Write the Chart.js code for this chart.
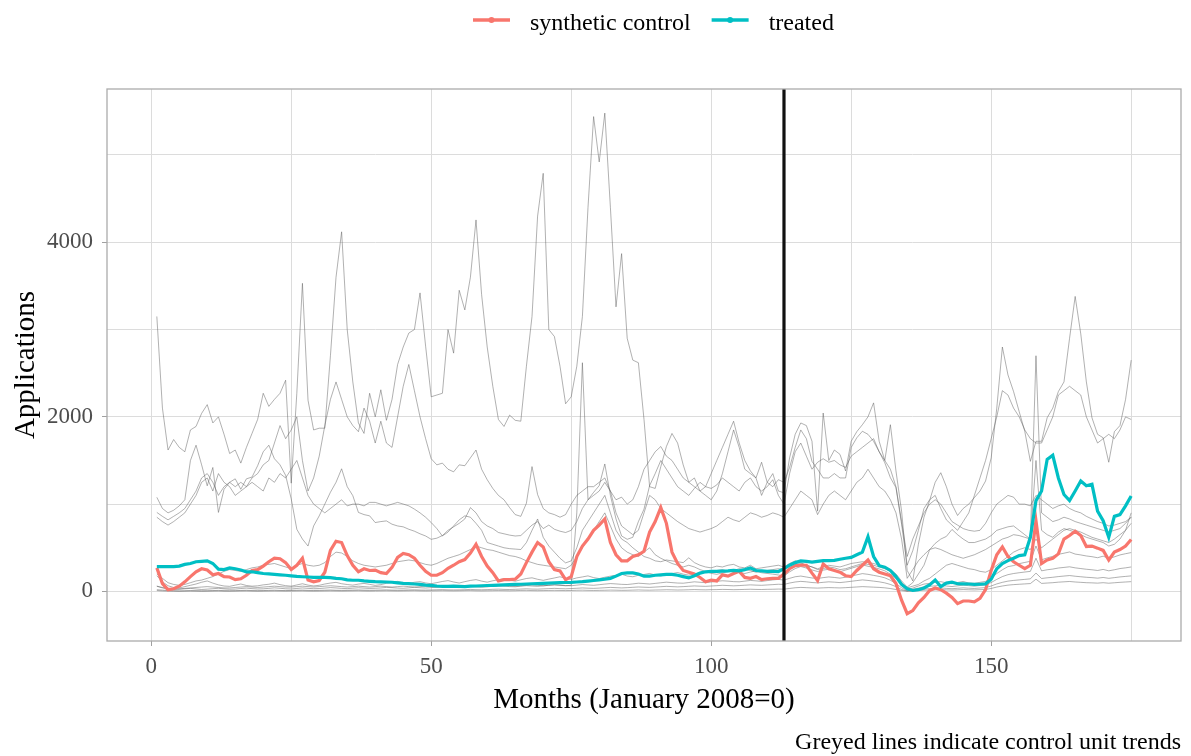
<!DOCTYPE html>
<html>
<head>
<meta charset="utf-8">
<title>Applications: treated vs synthetic control</title>
<script src="https://cdn.jsdelivr.net/npm/chart.js@4.4.1/dist/chart.umd.min.js"></script>
<style>
  html, body { margin: 0; padding: 0; background: #ffffff; }
  #wrap { width: 1191px; height: 756px; position: relative; }
  canvas { display: block; }
</style>
</head>
<body>
<div id="wrap"><canvas id="chart" width="1191" height="756"></canvas></div>
<script>
// Monthly series, month 1 .. 175 (January 2008 = 0)
const firstMonth = 1;
const treatmentMonth = 113;

// grid positions (major ones carry a label)
const xGrid = [0, 25, 50, 75, 100, 125, 150, 175];
const xTickLabels = [0, 50, 100, 150];
const yGrid = [0, 1000, 2000, 3000, 4000, 5000];
const yTickLabels = [0, 2000, 4000];

const seriesNames = ['synthetic control', 'treated'];
const captionText = 'Greyed lines indicate control unit trends';

const synthetic = [
  270, 90, 20, 30, 60, 110, 170, 225, 260, 245,
  190, 205, 170, 165, 135, 145, 185, 240, 250, 290,
  340, 380, 375, 330, 250, 300, 380, 130, 110, 125,
  220, 470, 575, 560, 410, 300, 225, 260, 240, 245,
  215, 205, 275, 390, 435, 420, 380, 300, 230, 185,
  185, 215, 265, 300, 340, 365, 440, 540, 400, 290,
  215, 120, 135, 135, 140, 200, 330, 450, 560, 510,
  340, 250, 235, 135, 170, 400, 520, 600, 700, 760,
  830, 560, 420, 350, 350, 400, 420, 460, 680, 800,
  960, 780, 450, 320, 240, 220, 200, 160, 110, 130,
  120, 190, 175, 205, 230, 160, 150, 170, 135, 145,
  150, 150, 200, 260, 296, 300, 300, 210, 125, 315,
  260, 240, 220, 180, 170, 240, 300, 360, 260, 220,
  200, 180, 90, -100, -255, -220, -130, -70, 10, 40,
  20, -20, -70, -140, -110, -110, -120, -80, 20, 240,
  420, 510, 400, 340, 300, 260, 300, 810, 320, 360,
  380, 430, 600, 640, 690, 640, 515, 520, 496, 470,
  360, 450, 480, 520, 595
];

const treated = [
  285, 285, 285, 285, 290, 310, 320, 340, 345, 350,
  320, 255, 250, 270, 260, 245, 225, 225, 215, 205,
  200, 195, 190, 185, 178, 172, 168, 165, 160, 160,
  160, 158, 150, 145, 132, 128, 128, 120, 116, 112,
  110, 108, 105, 98, 92, 90, 85, 80, 72, 70,
  62, 58, 58, 60, 58, 55, 60, 62, 65, 68,
  70, 72, 75, 78, 80, 82, 85, 88, 90, 92,
  95, 98, 100, 102, 104, 108, 112, 118, 125, 132,
  140, 150, 175, 205, 212, 212, 200, 175, 175, 185,
  190, 195, 195, 185, 170, 155, 180, 210, 225, 230,
  230, 232, 235, 240, 235, 250, 268, 240, 235, 230,
  230, 228, 260, 300, 330, 350, 345, 335, 345, 353,
  353, 355, 368, 380, 390, 420, 450, 627, 400, 295,
  278, 240, 170, 80, 30, 11, 20, 40, 75, 130,
  55, 95, 105, 88, 87, 85, 80, 82, 87, 140,
  260, 320, 353, 380, 410, 420, 620, 1040, 1150, 1512,
  1560, 1300, 1110, 1040, 1150, 1265, 1210, 1227, 920, 810,
  620, 860, 880, 980, 1094
];

// Control units
const unitA = [
  3150, 2100, 1620, 1740, 1650, 1600, 1850, 1890, 2040, 2140,
  1930, 2000, 1800, 1580, 1620, 1470, 1650, 1810, 1970, 2270,
  2120, 2200, 2270, 2420, 1240, 2270, 3530, 2190, 1850, 1870,
  1870, 2700, 3600, 4120, 3000, 2400, 1930, 1810, 2270, 2000,
  2310, 1960, 2200, 2600, 2800, 2960, 3000, 3420, 2810, 2230,
  2250, 2270, 3000, 2730, 3450, 3225, 3600, 4256, 3400, 2800,
  2350, 1970, 1890, 2020, 1960, 1950, 2580, 3150, 4300, 4790,
  3000, 2920, 2580, 2150, 2230, 2580, 3150, 4400, 5440, 4920,
  5480, 4400, 3260, 3870, 2900, 2650, 2620, 1970, 1200, 1180,
  1430, 1660, 1810, 1700, 1450, 1250, 1300, 1150, 1200, 1350,
  1500, 1650, 1800, 1950, 1700, 1500, 1380, 1300, 1480, 1250,
  1350, 1150, 1130, 1530, 1800, 1930, 1900, 1720, 920, 2044,
  1500, 1620, 1570, 1380, 1720, 1830, 1910, 2000, 2160, 1720,
  1500, 1910, 1380, 920, 240, 120, 540, 850, 1040, 1250,
  1360, 1200, 1000, 870, 950, 1000, 1075, 1150, 1265, 1530,
  2100, 2800, 2480, 2290, 2060, 1835, 1490, 1720, 1720, 1990,
  2100, 2290, 2400, 2900, 3380, 2950, 2400, 1990, 1800, 1760,
  1480, 1830, 1900, 2200, 2650
];

const unitB = [
  905, 860, 820, 860, 900, 950, 1050, 1150, 1300, 1350,
  1250, 1100, 1200, 1250, 1200, 1250, 1200, 1300, 1350, 1450,
  1500, 1700, 1900, 1750, 1850, 2000, 1500, 1150, 1300, 1550,
  1900, 2200, 2400, 2200, 2000, 1900, 1830, 2100, 1950, 1700,
  1950, 1700, 1650, 2000, 2350, 2600, 2300, 2000, 1750, 1520,
  1450, 1470, 1400, 1370, 1450, 1440, 1530, 1620, 1400, 1280,
  1180, 1100, 1050, 960, 880, 860, 1010, 1430, 1110, 950,
  900, 880, 850, 880, 1000, 1100, 1150, 1200, 1200, 1250,
  1300, 1150, 1050, 1080, 1000, 1050, 1200, 1400, 1500, 1600,
  1660, 1550, 1500, 1400, 1300, 1250, 1200, 1150, 1100, 1050,
  1150, 1350, 1600, 1850, 1650, 1400, 1350, 1300, 1100, 1250,
  1200, 1280, 1250, 1420, 1650, 1850, 1750, 1490, 1400, 1300,
  1300, 1350, 1300, 1300, 1650, 1760, 1835, 1800, 1720, 1600,
  1474, 1303, 1189, 770, 300, 467, 700, 950, 1050, 1100,
  950, 820, 760, 700, 800, 900, 1100, 1300, 1500, 1750,
  2000, 2300, 2250, 2100, 2000, 1850, 1750, 1700, 1700, 1850,
  2000, 2250, 2300, 2350, 2300, 2250, 2000, 1850, 1700, 1750,
  1800, 1750, 1850, 2000, 1970
];

const unitC = [
  1078, 950, 900, 930, 980, 1050, 1500, 1675, 1450, 1210,
  1420, 905, 1170, 1250, 1290, 1170, 1290, 1310, 1440, 1600,
  1675, 1520, 1450, 1330, 1060, 712, 600, 520, 750, 866,
  1000, 1136, 1250, 1405, 1200, 1097, 905, 880, 866, 789,
  800, 808, 770, 750, 740, 712, 690, 660, 635, 597,
  610, 640, 700, 740, 780, 830, 960, 900, 800, 750,
  720, 675, 660, 645, 635, 640, 700, 760, 800, 720,
  760, 712, 690, 675, 700, 800, 950, 1050, 1135, 1212,
  1460, 1100, 830, 635, 597, 620, 800, 943, 1212, 1350,
  1500, 1400, 1300, 1200, 1150, 1100, 1180, 1250, 1200, 1180,
  1220, 1300, 1250, 1200, 1150, 1250, 1300, 1200, 1150, 1200,
  1280, 1100, 1000, 1350, 1600, 1700, 1550, 1400, 1480, 1520,
  1480, 1500, 1450, 1420, 1550, 1600, 1650, 1700, 1750, 1600,
  1500, 1400, 1200, 800, 400, 600, 750, 900, 1000, 1050,
  1000, 900, 800, 760, 720, 700, 690, 700, 780, 900,
  1000, 1050, 1100, 1080, 1000, 1000, 980, 1100, 1050, 1000,
  950, 980, 1000, 950, 920, 900, 860, 830, 800, 780,
  750, 760, 780, 800, 850
];

const unitD = [
  850, 800, 760, 800, 850, 900, 1000, 1100, 1250, 1300,
  1150, 1350, 1250, 1200, 1100, 1150, 1200, 1250, 1200, 1150,
  1300, 1250, 1350, 1300, 1400, 1500, 1300, 1100, 1000, 950,
  900, 950, 1000, 1050, 980, 1000, 1000, 980, 1020, 1020,
  1000, 980, 1000, 1020, 1001, 980, 943, 900, 850, 789,
  720, 635, 680, 750, 820, 866, 850, 780, 700, 560,
  540, 520, 500, 490, 485, 480, 560, 700, 830, 620,
  520, 450, 380, 327, 350, 500, 700, 800, 900, 1000,
  1100, 900, 700, 600, 560, 500, 450, 400, 380, 350,
  340, 360, 350, 340, 330, 385, 330, 300, 280, 270,
  290, 280, 300, 310, 280, 270, 300, 260, 270, 280,
  290, 300, 280, 320, 350, 330, 300, 280, 260, 280,
  300, 290, 280, 300, 320, 330, 340, 330, 320, 300,
  280, 250, 200, 120, 50, 100, 200, 300, 477, 550,
  600, 630, 710, 650, 600, 560, 560, 580, 600, 640,
  700, 720, 740, 750, 700, 650, 600, 1500, 700, 650,
  620, 680, 720, 700, 680, 650, 620, 600, 580, 560,
  520, 540, 600, 700, 900
];

const unitE = [
  60, 40, 30, 25, 30, 35, 40, 45, 50, 55,
  50, 45, 40, 40, 45, 50, 55, 50, 45, 50,
  55, 60, 55, 50, 50, 55, 60, 55, 50, 55,
  60, 65, 60, 55, 50, 55, 60, 55, 50, 55,
  60, 55, 50, 55, 60, 55, 50, 55, 60, 55,
  50, 55, 60, 65, 60, 55, 60, 65, 60, 55,
  60, 65, 70, 65, 60, 65, 70, 75, 70, 65,
  70, 75, 70, 65, 70, 900, 2620, 1050, 1100, 1150,
  1250, 1150, 900, 750, 700, 650, 700, 900, 1100, 1050,
  950, 900, 850, 800, 760, 720, 700, 680, 700, 720,
  750, 800, 850, 820, 800, 850, 900, 880, 850, 870,
  900, 880, 850, 950, 1050, 1150, 1100, 1050, 880, 1000,
  1100, 1150, 1100, 1050, 1150, 1250, 1300, 1400, 1300, 1200,
  1150, 1050, 900, 600, 150, 250, 350, 420, 480, 500,
  480, 450, 420, 400, 380, 400, 420, 450, 480, 520,
  560, 600, 620, 650, 640, 620, 600, 2700, 900, 850,
  800, 820, 850, 830, 800, 780, 760, 740, 720, 700,
  680, 700, 720, 780, 850
];

const unitF = [
  200, 150, 100, 80, 70, 80, 100, 120, 130, 150,
  170, 200, 230, 250, 240, 230, 250, 270, 280, 300,
  310, 320, 300, 280, 260, 300, 320, 300, 290, 300,
  330, 400, 450, 440, 400, 350, 320, 300, 290, 280,
  290, 300, 320, 340, 350, 360, 350, 330, 310, 300,
  320, 350, 380, 400, 420, 450, 480, 520, 500, 480,
  470, 450, 430, 410, 400, 380, 350, 330, 310, 300,
  290, 280, 270, 260, 300, 400, 500, 600, 700, 800,
  900, 750, 600, 500, 450, 420, 400, 450, 500, 420,
  380, 350, 320, 300, 280, 300, 280, 250, 230, 220,
  240, 250, 230, 240, 260, 250, 240, 220, 230, 240,
  250, 260, 250, 300, 330, 320, 300, 280, 250, 260,
  280, 270, 250, 260, 280, 300, 320, 310, 300, 280,
  260, 230, 180, 100, 40, 60, 80, 120, 150, 200,
  250, 300, 320, 300, 280, 260, 250, 230, 220, 250,
  300, 350, 400, 450, 480, 500, 480, 600, 500, 550,
  600, 650, 700, 720, 700, 680, 650, 620, 600, 580,
  560, 600, 650, 700, 780
];

const unitG = [
  180, 110, 65, 45, 40, 55, 70, 85, 105, 120,
  95, 75, 62, 58, 72, 85, 68, 60, 64, 75,
  82, 95, 78, 66, 60, 74, 88, 72, 63, 70,
  85, 96, 104, 88, 79, 72, 84, 92, 81, 69,
  78, 93, 102, 115, 98, 92, 105, 112, 97, 88,
  101, 114, 124, 108, 96, 112, 126, 135, 118, 106,
  122, 134, 145, 128, 117, 133, 148, 156, 139, 127,
  141, 154, 168, 149, 138, 155, 166, 178, 158, 147,
  162, 175, 186, 197, 176, 168, 185, 194, 206, 188,
  178, 195, 204, 216, 198, 186, 203, 214, 228, 207,
  196, 212, 226, 235, 218, 205, 222, 236, 214, 206,
  198, 188, 176, 224, 262, 285, 268, 246, 228, 244,
  254, 238, 226, 245, 265, 284, 305, 288, 276, 258,
  236, 198, 148, 82, 22, 38, 62, 84, 92, 104,
  112, 98, 88, 102, 114, 96, 92, 104, 115, 152,
  205, 248, 284, 296, 318, 332, 345, 520, 362, 384,
  402, 425, 438, 452, 428, 418, 406, 398, 386, 404,
  378, 396, 418, 432, 445
];

const unitH = [
  60, 45, 32, 28, 24, 30, 35, 28, 22, 26,
  31, 36, 29, 25, 27, 33, 38, 32, 28, 30,
  35, 41, 36, 30, 28, 34, 40, 35, 31, 33,
  38, 44, 40, 35, 32, 37, 42, 38, 34, 36,
  40, 46, 43, 38, 36, 41, 47, 42, 39, 44,
  48, 54, 50, 46, 44, 50, 56, 52, 48, 53,
  58, 64, 60, 55, 53, 60, 66, 62, 58, 64,
  70, 76, 72, 67, 65, 72, 79, 74, 70, 77,
  84, 90, 86, 81, 79, 86, 94, 90, 85, 92,
  99, 106, 101, 96, 94, 102, 110, 105, 100, 108,
  116, 122, 118, 112, 110, 118, 126, 121, 115, 124,
  132, 138, 130, 150, 168, 176, 165, 154, 148, 158,
  166, 160, 152, 163, 178, 190, 204, 196, 184, 172,
  156, 128, 90, 42, 10, 24, 38, 52, 58, 64,
  70, 62, 56, 64, 72, 66, 60, 68, 76, 102,
  138, 170, 192, 205, 214, 222, 230, 380, 236, 248,
  256, 268, 275, 282, 270, 262, 254, 248, 240, 252,
  236, 248, 262, 270, 280
];

const unitI = [
  20, 15, 10, 8, 6, 8, 10, 9, 7, 8,
  10, 12, 9, 8, 9, 11, 13, 10, 9, 10,
  12, 14, 11, 10, 11, 13, 15, 12, 11, 12,
  14, 16, 13, 12, 13, 15, 17, 14, 13, 14,
  16, 18, 15, 14, 15, 17, 19, 16, 15, 17,
  19, 21, 18, 17, 18, 20, 23, 20, 19, 21,
  24, 26, 23, 22, 24, 27, 30, 27, 26, 29,
  32, 35, 32, 30, 33, 36, 40, 37, 35, 38,
  42, 46, 43, 40, 43, 47, 51, 48, 46, 50,
  54, 58, 55, 52, 55, 59, 63, 60, 58, 62,
  66, 70, 67, 64, 67, 71, 75, 72, 70, 74,
  78, 82, 80, 96, 108, 115, 110, 102, 98, 104,
  110, 106, 101, 108, 116, 124, 132, 126, 118, 110,
  98, 80, 55, 22, 4, 12, 20, 28, 32, 36,
  40, 35, 31, 36, 41, 37, 34, 39, 44, 62,
  86, 104, 118, 126, 132, 138, 144, 210, 148, 156,
  162, 170, 176, 182, 174, 168, 162, 158, 152, 160,
  150, 158, 166, 172, 178
];

const unitJ = [
  10, 6, 4, 3, 2, 3, 4, 3, 2, 3,
  4, 5, 3, 3, 4, 5, 6, 4, 3, 4,
  5, 6, 5, 4, 5, 6, 7, 5, 4, 5,
  6, 7, 6, 5, 6, 7, 8, 6, 5, 6,
  7, 8, 7, 6, 7, 8, 9, 7, 6, 7,
  8, 9, 8, 7, 8, 9, 10, 8, 7, 8,
  9, 10, 9, 8, 9, 11, 12, 10, 9, 10,
  11, 12, 11, 10, 11, 13, 14, 12, 11, 12,
  13, 15, 14, 12, 13, 15, 17, 15, 14, 16,
  17, 19, 18, 16, 17, 19, 21, 19, 18, 20,
  21, 23, 22, 20, 21, 23, 25, 23, 22, 24,
  25, 27, 26, 34, 42, 46, 43, 40, 38, 41,
  44, 42, 40, 43, 47, 51, 55, 52, 49, 46,
  41, 33, 22, 10, 2, 6, 10, 14, 16, 18,
  20, 18, 16, 18, 21, 19, 17, 20, 23, 34,
  50, 62, 72, 78, 82, 86, 90, 140, 92, 96,
  100, 106, 110, 114, 108, 104, 100, 98, 95, 100,
  94, 99, 104, 108, 112
];

const controlUnits = [unitA, unitB, unitC, unitD, unitE, unitF, unitG, unitH, unitI, unitJ];

const COLORS = { synthetic: '#F8766D', treated: '#00BFC4', control: 'rgba(90,90,90,0.6)' };
const FONT = '"Liberation Serif", "Times New Roman", Times, serif';

const toPoints = values => values.map((v, i) => ({ x: firstMonth + i, y: v }));

Chart.defaults.font.family = FONT;

const datasets = [
  { label: seriesNames[1], data: toPoints(treated), borderColor: COLORS.treated, borderWidth: 3.2 },
  { label: seriesNames[0], data: toPoints(synthetic), borderColor: COLORS.synthetic, borderWidth: 3.2 }
].concat(controlUnits.map((u, k) => ({
  label: 'control ' + (k + 1),
  data: toPoints(u),
  borderColor: COLORS.control,
  borderWidth: 0.8
})));

datasets.forEach(d => { d.pointRadius = 0; d.tension = 0; d.fill = false; });

// Panel frame, treatment marker, legend and caption
const decorations = {
  id: 'decorations',
  beforeDraw(chart) {
    const { ctx, width, height } = chart;
    ctx.save();
    ctx.fillStyle = '#ffffff';
    ctx.fillRect(0, 0, width, height);
    ctx.restore();
  },
  afterDatasetsDraw(chart) {
    const { ctx, chartArea: a, scales: { x } } = chart;
    const px = x.getPixelForValue(treatmentMonth);
    ctx.save();
    ctx.strokeStyle = '#111111';
    ctx.lineWidth = 3.2;
    ctx.beginPath();
    ctx.moveTo(px, a.top);
    ctx.lineTo(px, a.bottom);
    ctx.stroke();
    ctx.strokeStyle = '#ABABAB';
    ctx.lineWidth = 1.3;
    ctx.strokeRect(a.left, a.top, a.right - a.left, a.bottom - a.top);
    ctx.restore();
  },
  afterDraw(chart) {
    const { ctx } = chart;
    ctx.save();
    // legend
    const items = [
      { label: seriesNames[0], color: COLORS.synthetic },
      { label: seriesNames[1], color: COLORS.treated }
    ];
    ctx.font = '24px ' + FONT;
    ctx.textBaseline = 'middle';
    ctx.textAlign = 'left';
    let lx = 473;
    const ly = 20;
    items.forEach(it => {
      ctx.strokeStyle = it.color;
      ctx.lineWidth = 3.4;
      ctx.beginPath();
      ctx.moveTo(lx, ly);
      ctx.lineTo(lx + 37, ly);
      ctx.stroke();
      ctx.fillStyle = it.color;
      ctx.beginPath();
      ctx.arc(lx + 18.5, ly, 3, 0, Math.PI * 2);
      ctx.fill();
      ctx.fillStyle = '#000000';
      ctx.fillText(it.label, lx + 57, ly + 4);
      lx += 57 + ctx.measureText(it.label).width + 21;
    });
    // caption
    ctx.textAlign = 'right';
    ctx.fillText(captionText, 1181, 743);
    ctx.restore();
  }
};

new Chart(document.getElementById('chart'), {
  type: 'line',
  data: { datasets },
  options: {
    responsive: false,
    animation: false,
    devicePixelRatio: 1,
    events: [],
    layout: { padding: { left: 0, right: 10, top: 89, bottom: 38 } },
    plugins: { legend: { display: false }, tooltip: { enabled: false } },
    scales: {
      x: {
        type: 'linear',
        min: -7.9,
        max: 183.9,
        afterBuildTicks(s) { s.ticks = xGrid.map(v => ({ value: v })); },
        afterFit(s) { s.height = 77; },
        border: { display: false },
        grid: {
          color: '#DCDCDC',
          lineWidth: 1,
          tickLength: 5,
          tickColor: c => xTickLabels.includes(c.tick.value) ? '#A0A0A0' : 'rgba(0,0,0,0)'
        },
        ticks: {
          autoSkip: false,
          maxRotation: 0,
          padding: 7,
          color: '#4D4D4D',
          font: { family: FONT, size: 23 },
          callback: v => xTickLabels.includes(v) ? String(v) : ''
        },
        title: {
          display: true,
          text: 'Months (January 2008=0)',
          color: '#000000',
          font: { family: FONT, size: 29 },
          padding: { top: 0, bottom: 0 }
        }
      },
      y: {
        type: 'linear',
        min: -568,
        max: 5756,
        afterBuildTicks(s) { s.ticks = yGrid.map(v => ({ value: v })); },
        afterFit(s) { s.width = 107; },
        border: { display: false },
        grid: {
          color: '#DCDCDC',
          lineWidth: 1,
          tickLength: 5,
          tickColor: c => yTickLabels.includes(c.tick.value) ? '#A0A0A0' : 'rgba(0,0,0,0)'
        },
        ticks: {
          autoSkip: false,
          padding: 9,
          color: '#4D4D4D',
          font: { family: FONT, size: 23 },
          callback: v => yTickLabels.includes(v) ? String(v) : ''
        },
        title: {
          display: true,
          text: 'Applications',
          color: '#000000',
          font: { family: FONT, size: 29 },
          padding: { top: 9, bottom: 0 }
        }
      }
    }
  },
  plugins: [decorations]
});
</script>
</body>
</html>
